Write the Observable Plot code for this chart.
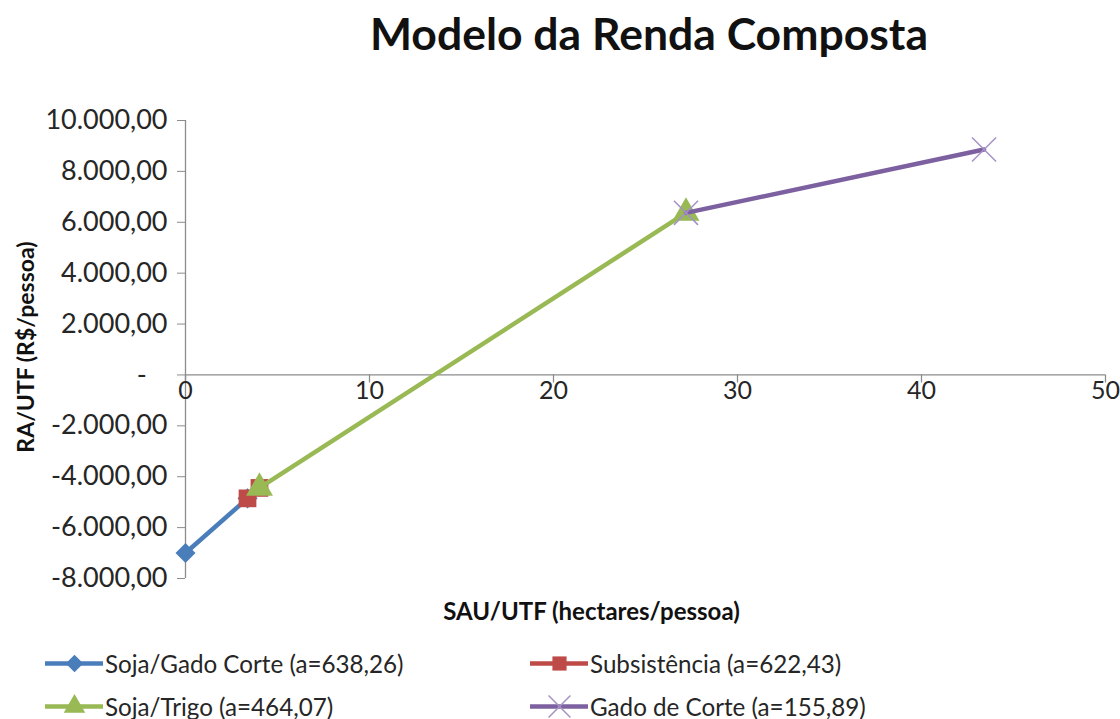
<!DOCTYPE html>
<html><head><meta charset="utf-8">
<script src="https://cdn.jsdelivr.net/npm/d3@7"></script>
<script src="https://cdn.jsdelivr.net/npm/@observablehq/plot@0.6"></script>
<style>
body{margin:0;background:#fff;width:1120px;height:719px;overflow:hidden;font-family:Lato,sans-serif;color:#262626;position:relative}
#title{height:78px;box-sizing:border-box;padding-top:8px;line-height:50px;font-size:44.5px;font-weight:bold;text-align:center;padding-left:178px;color:#111}
#ylabel{position:absolute;left:25px;top:347px;transform:translate(-50%,-50%) rotate(-90deg);font-size:23px;font-weight:bold;color:#111;white-space:nowrap}
#legend{position:relative;height:81px}
.item{position:absolute;height:30px;display:flex;align-items:center;font-size:24.2px;white-space:nowrap}
.item svg{margin-right:2px}
</style></head>
<body>
<div id="title">Modelo da Renda Composta</div>
<div id="chart"></div>
<div id="legend"></div>
<div id="ylabel">RA/UTF (R$/pessoa)</div>
<script>
// ---- data ----
const seriesNames = ["Soja/Gado Corte (a=638,26)", "Subsistência (a=622,43)", "Soja/Trigo (a=464,07)", "Gado de Corte (a=155,89)"];
const sojaGadoX = [0, 3.37];
const sojaGadoY = [-7000, -4850];
const subsistenciaX = [3.37, 4.02];
const subsistenciaY = [-4850, -4440];
const sojaTrigoX = [4.02, 27.2];
const sojaTrigoY = [-4440, 6370];
const gadoCorteX = [27.2, 43.4];
const gadoCorteY = [6370, 8860];
const xTicks = [0, 10, 20, 30, 40, 50];
const yTicks = [-8000, -6000, -4000, -2000, 0, 2000, 4000, 6000, 8000, 10000];

const colors = ["#4a7ebb", "#be4b48", "#98b954", "#7d60a0"];
const markerColors = ["#4a7ebb", "#be4b48", "#98b954", "#a592c4"];
const symbols = ["square", "square", "triangle", "times"];
const rotations = [45, 0, 0, 0];
const radii = [8, 10, 10, 11];
const legendRadii = [7, 8, 8, 10];

const xs = [sojaGadoX, subsistenciaX, sojaTrigoX, gadoCorteX];
const ys = [sojaGadoY, subsistenciaY, sojaTrigoY, gadoCorteY];
const series = seriesNames.map((name, i) => xs[i].map((x, j) => ({name, x, y: ys[i][j]})));

const loc = d3.formatLocale({decimal: ",", thousands: ".", grouping: [3], currency: ["", ""], minus: "-"});
const fmt = loc.format(",.2f");
const yFmt = d => d === 0 ? "-\u00a0\u00a0\u00a0" : fmt(d);

const marks = [
  Plot.ruleX([0], {stroke: "#8c8c8c", strokeWidth: 1.3}),
  Plot.ruleY([0], {stroke: "#8c8c8c", strokeWidth: 1.3}),
  Plot.ruleX(xTicks, {y1: 0, y2: 0, insetBottom: -8, stroke: "#8c8c8c", strokeWidth: 1.3}),
  Plot.text(xTicks, {x: d => d, y: 0, text: d => String(d), dy: 16, fontSize: 25, fill: "#262626"}),
  Plot.axisY({ticks: yTicks, tickFormat: yFmt, tickSize: 8, tickPadding: 10, stroke: "#8c8c8c", fill: "#262626", fontSize: 27, label: null}),
  Plot.text(["SAU/UTF (hectares/pessoa)"], {frameAnchor: "bottom", dx: -54, dy: 41, fontSize: 24, fontWeight: "bold", fill: "#111"})
];
series.forEach((s, i) => {
  marks.push(Plot.line(s, {x: "x", y: "y", stroke: colors[i], strokeWidth: 4.5}));
  if (symbols[i] === "times") {
    marks.push(Plot.dot(s, {x: "x", y: "y", symbol: "times", r: radii[i], stroke: markerColors[i], strokeWidth: 1.5}));
  } else {
    marks.push(Plot.dot(s, {x: "x", y: "y", symbol: symbols[i], rotate: rotations[i], r: radii[i], fill: markerColors[i], stroke: "none"}));
  }
});

const chart = Plot.plot({
  width: 1120,
  height: 560,
  marginTop: 42,
  marginBottom: 60,
  marginLeft: 185,
  marginRight: 15,
  style: {fontFamily: "Lato, sans-serif", fontSize: "24px", background: "#fff", overflow: "visible"},
  x: {domain: [0, 50], axis: null},
  y: {domain: [-8000, 10000], axis: null},
  marks
});
document.getElementById("chart").appendChild(chart);

// ---- legend ----
const legend = document.getElementById("legend");
const pos = [[45, 10], [530, 10], [45, 53], [530, 53]];
seriesNames.forEach((name, i) => {
  const div = document.createElement("div");
  div.className = "item";
  div.style.left = pos[i][0] + "px";
  div.style.top = pos[i][1] + "px";
  const sw = Plot.plot({
    width: 58, height: 30, margin: 0,
    x: {domain: [0, 1], axis: null}, y: {domain: [0, 1], axis: null},
    style: {background: "transparent", overflow: "visible"},
    marks: [
      Plot.ruleY([0.5], {stroke: colors[i], strokeWidth: 4.5}),
      symbols[i] === "times"
        ? Plot.dot([0.5], {x: d => d, y: 0.5, symbol: "times", r: legendRadii[i], stroke: markerColors[i], strokeWidth: 1.5})
        : Plot.dot([0.5], {x: d => d, y: 0.5, symbol: symbols[i], rotate: rotations[i], r: legendRadii[i], fill: markerColors[i]})
    ]
  });
  div.appendChild(sw);
  const t = document.createElement("span");
  t.textContent = name;
  div.appendChild(t);
  legend.appendChild(div);
});
</script>
</body></html>
